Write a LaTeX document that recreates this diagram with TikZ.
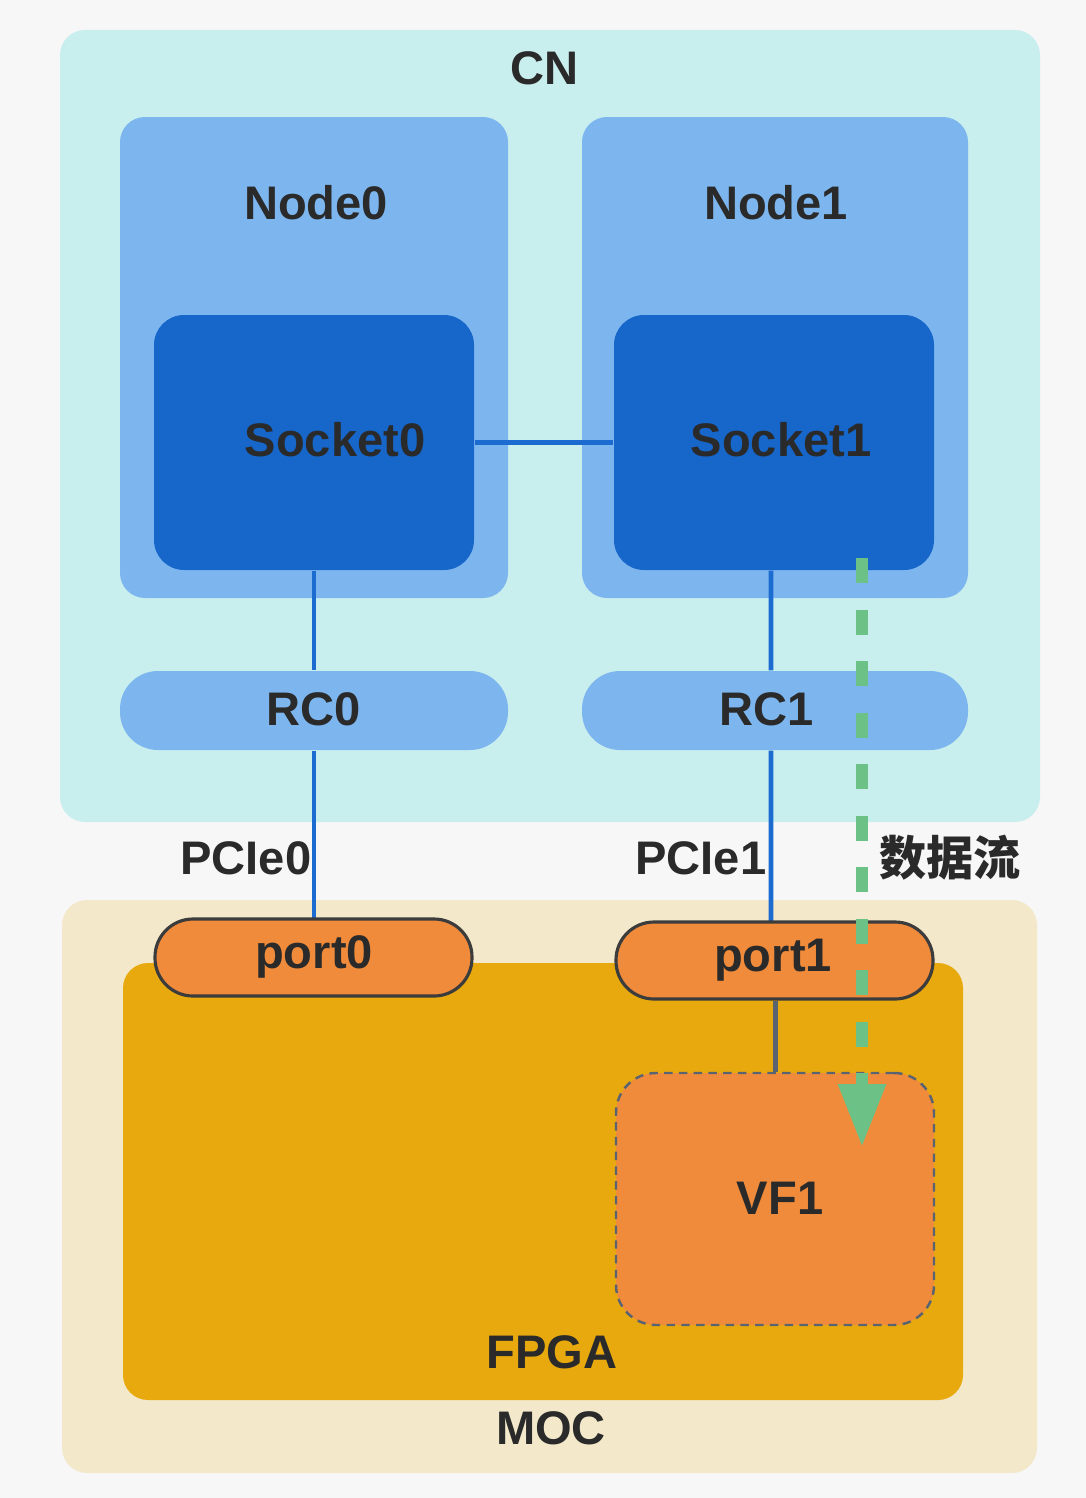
\documentclass[tikz,border=0pt]{standalone}
\usepackage{fontspec}
\setmainfont{Liberation Sans}
\newfontfamily\cjk{Noto Sans CJK SC}
\usetikzlibrary{calc}
\usetikzlibrary{positioning}
\usetikzlibrary{arrows.meta}

\definecolor{bgcol}{HTML}{F7F7F7}
\definecolor{cncol}{HTML}{C9EEEE}
\definecolor{nodecol}{HTML}{7DB6EF}
\definecolor{sockcol}{HTML}{1766C9}
\definecolor{linkcol}{HTML}{1C6BD1}
\definecolor{moccol}{HTML}{F3E9CA}
\definecolor{fpgacol}{HTML}{E8A90E}
\definecolor{portcol}{HTML}{EF8B3B}
\definecolor{txtcol}{HTML}{2A2A2A}
\definecolor{edgecol}{HTML}{3C3C3C}
\definecolor{vfedge}{HTML}{5A6470}
\definecolor{flowcol}{HTML}{6CC286}

\tikzset{
  every picture/.style={/utils/exec={\fontsize{13.4}{16}\selectfont\bfseries}},
  box/.style={rectangle, inner sep=0pt, rounded corners=0.25cm},
  lbl/.style={text=txtcol, inner sep=0pt},
  link/.style={draw=linkcol, line width=1.3pt},
  portbox/.style={box, fill=portcol, draw=edgecol, line width=0.9pt,
    minimum width=3.17cm, minimum height=0.77cm, rounded corners=0.38cm},
}

\begin{document}
\begin{tikzpicture}[x=1cm, y=-1cm]
  \fill [bgcol] (0,0) rectangle (10.86,14.98);
  \useasboundingbox (0,0) rectangle (10.86,14.98);

  % CN side
  \node [box, fill=cncol, minimum width=9.80cm, minimum height=7.92cm] (cn) at (5.50, 4.26) {};
  \node [box, fill=nodecol, minimum width=3.88cm, minimum height=4.81cm] (node0) at (3.14, 3.575) {};
  \node [box, fill=nodecol, minimum width=3.86cm, minimum height=4.81cm] (node1) at (7.75, 3.575) {};
  \node [box, fill=sockcol, minimum width=3.20cm, minimum height=2.55cm, rounded corners=0.3cm] (sock0) at (3.14, 4.425) {};
  \node [box, fill=sockcol, minimum width=3.20cm, minimum height=2.55cm, rounded corners=0.3cm] (sock1) at (7.74, 4.425) {};
  \node [box, fill=nodecol, minimum width=3.88cm, minimum height=0.79cm, rounded corners=0.38cm] (rc0) at (3.14, 7.105) {};
  \node [box, fill=nodecol, minimum width=3.86cm, minimum height=0.79cm, rounded corners=0.38cm] (rc1) at (7.75, 7.105) {};

  % MOC side
  \node [box, fill=moccol, minimum width=9.75cm, minimum height=5.73cm] (moc) at (5.495, 11.865) {};
  \node [box, fill=fpgacol, minimum width=8.40cm, minimum height=4.37cm] (fpga) at (5.43, 11.815) {};
  \node [box, fill=portcol, draw=vfedge, line width=0.7pt, dash pattern=on 2.4pt off 1.8pt,
    minimum width=3.18cm, minimum height=2.52cm, rounded corners=0.4cm] (vf1) at (7.75, 11.99) {};

  \draw [link] (sock0) -- (sock1);
  \draw [link] (sock0.south) -- (rc0.north);
  \draw [link] ([xshift=-0.3mm]sock1.south) -- ([xshift=-0.4mm]rc1.north);
  \draw [link] (rc0.south) -- (3.14, 9.20) coordinate (p0top);
  \draw [link] ([xshift=-0.4mm]rc1.south) -- (7.71, 9.23) coordinate (p1top);

  \node [portbox] (port0) at (3.135, 9.575) {};
  \node [portbox] (port1) at (7.745, 9.605) {};
  \draw [draw=vfedge, line width=1.2pt] ([xshift=0.01cm]port1.south) -- ([xshift=0.01cm]port1.south |- vf1.north);

  % texts
  \node [lbl] (tcn) at (5.45, 0.68) {CN};
  \node [lbl] (tnode0) at (3.16, 2.03) {Node0};
  \node [lbl] (tnode1) at (7.76, 2.03) {Node1};
  \node [lbl] (tsock0) at (3.35, 4.40) {Socket0};
  \node [lbl] (tsock1) at (7.81, 4.40) {Socket1};
  \node [lbl] (trc0) at (3.14, 7.09) {RC0};
  \node [lbl] (trc1) at (7.67, 7.09) {RC1};
  \node [lbl, anchor=east] (tpcie0) at (3.12, 8.58) {PCIe0};
  \node [lbl, anchor=east] (tpcie1) at (7.67, 8.58) {PCIe1};
  \node [lbl] (tflow) at (9.50, 8.58) {\cjk\bfseries 数据流};
  \node [lbl] (tport0) at (3.14, 9.57) {port0};
  \node [lbl] (tport1) at (7.73, 9.60) {port1};
  \node [lbl] (tvf1) at (7.80, 11.98) {VF1};
  \node [lbl] (tfpga) at (5.52, 13.52) {FPGA};
  \node [lbl] (tmoc) at (5.51, 14.28) {MOC};

  % data flow
  \coordinate (flowstart) at (8.62, 5.58);
  \coordinate (flowend) at (8.62, 11.47);
  \draw [draw=flowcol, line width=3.4pt, dash pattern=on 0.25cm off 0.265cm,
    -{Triangle[width=4.5mm, length=6.3mm]}] (flowstart) -- (flowend);
\end{tikzpicture}
\end{document}
